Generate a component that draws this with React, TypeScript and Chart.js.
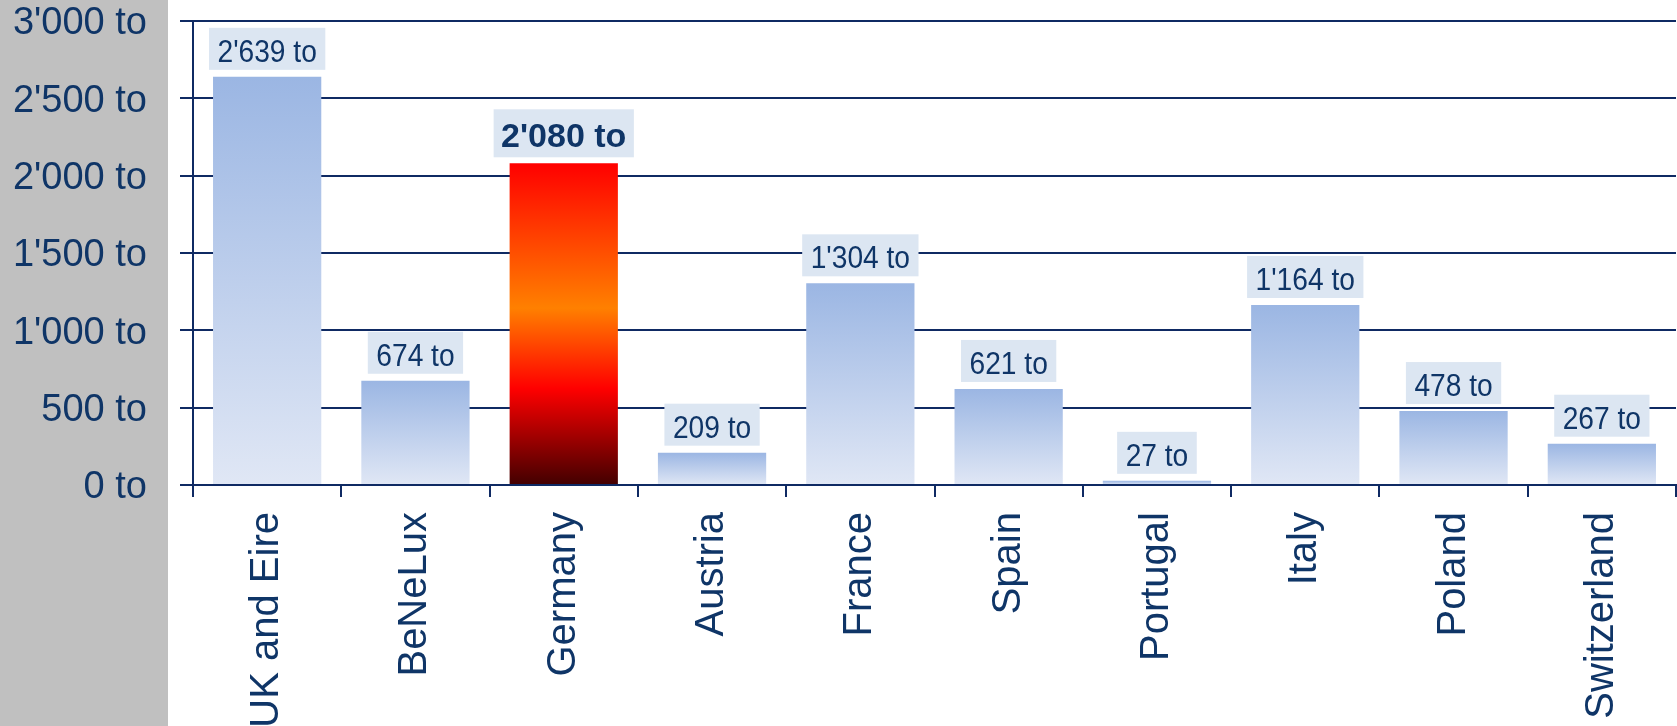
import React, { useEffect, useRef } from "react";
import { Chart, registerables } from "chart.js";

Chart.register(...registerables);

const categories = [
  "UK and Eire",
  "BeNeLux",
  "Germany",
  "Austria",
  "France",
  "Spain",
  "Portugal",
  "Italy",
  "Poland",
  "Switzerland",
];
const values = [2639, 674, 2080, 209, 1304, 621, 27, 1164, 478, 267];
const highlighted = "Germany";
const yMin = 0;
const yMax = 3000;
const yStep = 500;

const NAVY = "#0f3567";
const GRID = "#0f2a63";
const FONT = "'Liberation Sans', Arial, sans-serif";

const fmt = (v: number) => {
  const s = Math.round(v).toString();
  return s.replace(/\B(?=(\d{3})+(?!\d))/g, "'") + " to";
};

const grayPanel = {
  id: "grayPanel",
  beforeDraw(chart: any) {
    const { ctx, width, height } = chart;
    ctx.save();
    ctx.fillStyle = "#ffffff";
    ctx.fillRect(0, 0, width, height);
    ctx.fillStyle = "#c0c0c0";
    ctx.fillRect(0, 0, 168, height);
    ctx.restore();
  },
};

const valueLabels = {
  id: "valueLabels",
  afterDatasetsDraw(chart: any) {
    const { ctx } = chart;
    const meta = chart.getDatasetMeta(0);
    meta.data.forEach((bar: any, i: number) => {
      const isHi = categories[i] === highlighted;
      const text = fmt(values[i]);
      ctx.save();
      const sx = isHi ? 1 : 0.88;
      ctx.font = isHi ? `bold 34px ${FONT}` : `32px ${FONT}`;
      const tw = ctx.measureText(text).width * sx;
      const padX = isHi ? 7.5 : 8.5;
      const boxH = isHi ? 48 : 42;
      const gap = isHi ? 6 : 7;
      const bw = tw + padX * 2;
      const bottom = bar.y - gap;
      const top = bottom - boxH;
      const left = bar.x - bw / 2;
      ctx.fillStyle = "#dce6f2";
      ctx.fillRect(left, top, bw, boxH);
      ctx.fillStyle = NAVY;
      ctx.textBaseline = "alphabetic";
      ctx.textAlign = "left";
      ctx.translate(left + padX, bottom - (isHi ? 10 : 8));
      ctx.scale(sx, 1);
      ctx.fillText(text, 0, 0);
      ctx.restore();
    });
  },
};

export default function App() {
  const ref = useRef<HTMLCanvasElement | null>(null);

  useEffect(() => {
    document.body.style.margin = "0";
    const canvas = ref.current;
    if (!canvas) return;

    const bg = (c: any) => {
      const chart = c.chart;
      const area = chart.chartArea;
      const isHi = categories[c.dataIndex] === highlighted;
      if (!area || c.type !== "data") return isHi ? "#ff2000" : "#b8c9ec";
      const ys = chart.scales.y;
      const v = values[c.dataIndex];
      const t = ys.getPixelForValue(v);
      const b = ys.getPixelForValue(0);
      const g = chart.ctx.createLinearGradient(0, t, 0, b);
      if (isHi) {
        g.addColorStop(0, "#ff0000");
        g.addColorStop(0.45, "#ff8000");
        g.addColorStop(0.7, "#ff0000");
        g.addColorStop(1, "#420000");
      } else {
        g.addColorStop(0, "#9bb6e3");
        g.addColorStop(1, "#e0e7f5");
      }
      return g;
    };

    const chart = new Chart(canvas, {
      type: "bar",
      data: {
        labels: categories,
        datasets: [
          {
            data: values,
            backgroundColor: bg,
            borderWidth: 0,
            barPercentage: 0.73,
            categoryPercentage: 1,
          },
        ],
      },
      options: {
        animation: false,
        responsive: true,
        maintainAspectRatio: false,
        layout: { padding: { top: 21, right: 1, left: 0, bottom: 0 } },
        plugins: {
          legend: { display: false },
          tooltip: { enabled: false },
          title: { display: false },
        },
        scales: {
          x: {
            offset: true,
            afterFit: (s: any) => {
              s.height = 241;
              s.paddingLeft = 0;
              s.paddingRight = 0;
            },
            grid: {
              offset: true,
              drawOnChartArea: false,
              drawTicks: true,
              tickLength: 12,
              lineWidth: 2,
              color: GRID,
            },
            border: { display: true, color: GRID, width: 2 },
            ticks: {
              autoSkip: false,
              maxRotation: 90,
              minRotation: 90,
              padding: 15,
              color: NAVY,
              font: { family: FONT, size: 40 },
            },
          },
          y: {
            min: yMin,
            max: yMax,
            afterFit: (s: any) => {
              s.width = 193;
              s.paddingTop = 0;
              s.paddingBottom = 0;
            },
            grid: {
              drawOnChartArea: true,
              drawTicks: true,
              tickLength: 13,
              lineWidth: 2,
              color: GRID,
            },
            border: { display: true, color: GRID, width: 2 },
            ticks: {
              stepSize: yStep,
              padding: 33,
              labelOffset: 3,
              color: NAVY,
              font: { family: FONT, size: 38, lineHeight: 1 },
              callback: (v: any) => fmt(Number(v)),
            },
          },
        },
      },
      plugins: [grayPanel, valueLabels],
    });

    return () => chart.destroy();
  }, []);

  return (
    <div style={{ width: 1677, height: 726, position: "relative" }}>
      <canvas ref={ref} />
    </div>
  );
}
